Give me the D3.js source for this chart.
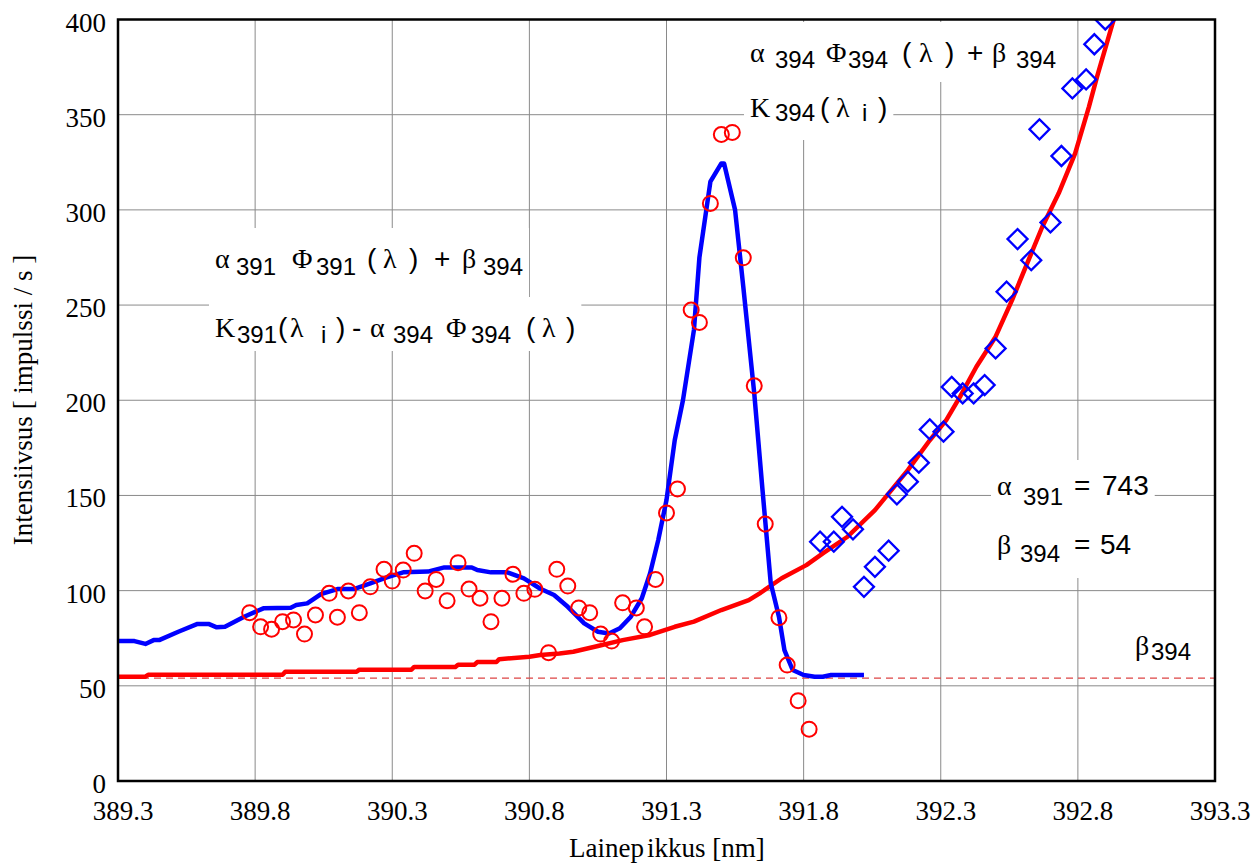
<!DOCTYPE html>
<html><head><meta charset="utf-8">
<script src="https://cdn.jsdelivr.net/npm/d3@7"></script>
<style>body{margin:0;background:#fff} svg{display:block} text{white-space:pre}</style>
</head><body>
<svg id="chart" width="1255" height="864"></svg>
<script>
// ---------- data ----------
const xTicks = [389.3, 389.8, 390.3, 390.8, 391.3, 391.8, 392.3, 392.8, 393.3];
const yTicks = [0, 50, 100, 150, 200, 250, 300, 350, 400];
const xTitleA = "Lainep", xTitleB = "ikkus [nm]";
const yTitle = "Intensiivsus [ impulssi / s ]";

// alpha391*Phi391(lambda) + beta394 (blue curve)
const blueX = [389.30,389.36,389.40,389.43,389.45,389.52,389.59,389.63,389.66,389.69,389.76,389.83,389.93,389.95,389.99,390.04,390.10,390.16,390.22,390.28,390.34,390.43,390.49,390.59,390.61,390.66,390.72,390.78,390.84,390.89,390.94,391.00,391.05,391.09,391.13,391.17,391.21,391.24,391.27,391.30,391.33,391.36,391.40,391.42,391.46,391.50,391.51,391.55,391.58,391.62,391.65,391.68,391.71,391.73,391.76,391.80,391.84,391.87,391.90,391.94,392.02];
const blueY = [73.5,73.5,72,74,74,78.4,82.5,82.5,80.7,81,86.3,90.7,91,92.4,93.3,98.2,100.8,100.8,103.8,107,109.6,110,112.2,112.2,110.8,109.6,109.6,106.4,101,97.7,91.5,82.8,78.4,77.5,80.2,86.3,96,109,126.6,147.6,179,200,236.9,275,314.8,324.4,324.4,300,259.6,203.6,153,104,86.3,68.8,58.3,55.7,54.8,54.8,55.7,55.7,55.7];

// alpha394*Phi394(lambda) + beta394 (red curve)
const redX = [389.30,389.40,389.41,389.90,389.91,390.17,390.18,390.37,390.38,390.53,390.54,390.60,390.61,390.68,390.69,390.80,390.84,390.91,390.96,391.05,391.14,391.24,391.33,391.40,391.50,391.60,391.64,391.72,391.81,391.87,391.96,392.06,392.12,392.18,392.26,392.32,392.37,392.43,392.50,392.56,392.62,392.67,392.73,392.79,392.84,392.87,392.93,392.97];
const redY = [54.8,54.8,55.8,55.8,57.4,57.4,58.5,58.5,59.9,59.9,61.1,61.1,62.5,62.5,64,65.3,66.2,67,67.9,70.9,74,76.7,81,83.7,89.8,95,98.6,106.5,113.4,119.6,128.3,142.3,152.8,163.3,179,189.6,201.8,217.6,233.4,252.6,273.6,291,308.7,329.7,354,370,399.7,415];

// K391(lambda_i) - alpha394*Phi394 (red circles)
const circX = [389.78,389.82,389.86,389.90,389.94,389.98,390.02,390.07,390.10,390.14,390.18,390.22,390.27,390.30,390.34,390.38,390.42,390.46,390.50,390.54,390.58,390.62,390.66,390.70,390.74,390.78,390.82,390.87,390.90,390.94,390.98,391.02,391.06,391.10,391.14,391.19,391.22,391.26,391.30,391.34,391.39,391.42,391.46,391.50,391.54,391.58,391.62,391.66,391.71,391.74,391.78,391.82];
const circY = [88.4,81,79.7,83.7,84.6,77.2,87.2,98.6,86,99.8,88.4,102,111.2,105,110.8,119.6,99.8,105.9,94.7,114.7,100.8,96,83.7,96,108.6,98.6,100.7,67.4,111.2,102.4,90.9,88.4,77.2,73.5,93.6,90.9,81,105.9,140.8,153.4,247.4,240.9,303.4,339.6,340.7,274.8,207.6,135,85.8,60.9,42.2,27.2];

// K394(lambda_i) (blue diamonds)
const diamX = [391.86,391.91,391.94,391.98,392.02,392.06,392.11,392.14,392.18,392.22,392.26,392.31,392.34,392.38,392.42,392.46,392.50,392.54,392.58,392.63,392.66,392.70,392.74,392.78,392.83,392.86,392.90];
const diamY = [125.7,125.7,138.8,132.2,102,112.5,121,150.6,157.2,167.2,184.7,183.5,207,203.6,203.6,208,227.2,257,284.7,273.6,342.3,293.4,328.3,363.8,368.5,387,400];

const alpha391 = 743;
const beta394 = 54;

// ---------- drawing ----------
const SER = "'Liberation Serif','Times New Roman',serif";
const SAN = "'Liberation Sans',Arial,sans-serif";
const L = 118, T = 19.5, R = 1215, B = 781;
const svg = d3.select("#chart");
const x = d3.scaleLinear().domain([389.3, 393.3]).range([L, R]);
const y = d3.scaleLinear().domain([0, 400]).range([B, T]);

svg.append("defs").append("clipPath").attr("id","clip")
  .append("rect").attr("x",L).attr("y",T).attr("width",R-L).attr("height",B-T);

// grid
const grid = svg.append("g");
grid.selectAll("line.v").data(xTicks.slice(1,-1)).join("line")
  .attr("x1",d=>x(d)).attr("x2",d=>x(d)).attr("y1",T).attr("y2",B)
  .attr("stroke","#8a8a8a").attr("stroke-width",1);
grid.selectAll("line.h").data(yTicks.slice(1,-1)).join("line")
  .attr("y1",d=>y(d)).attr("y2",d=>y(d)).attr("x1",L).attr("x2",R)
  .attr("stroke","#8a8a8a").attr("stroke-width",1);

// beta394 dashed line
svg.append("line").attr("x1",x(389.3)).attr("x2",x(393.3))
  .attr("y1",y(beta394)).attr("y2",y(beta394))
  .attr("stroke","#dd4444").attr("stroke-width",1.3).attr("stroke-dasharray","7,5");

// labels with white boxes; each part: [text, kind, x-offset]
const labelLayer = svg.append("g");
const STY = {g:{f:SER,s:28}, s:{f:SAN,s:24}, n:{f:SAN,s:28}};
function addLabel(px, py, parts, subShift, boxTop, boxBot){
  const g = labelLayer.append("g");
  const rect = g.append("rect").attr("fill","#fff");
  const txt = g.append("text").attr("fill","#000");
  parts.forEach(([t,k,off])=>{
    txt.append("tspan").attr("font-family",STY[k].f).attr("font-size",STY[k].s)
      .attr("x",px+off).attr("y",py + (k==='s'?subShift:0)).text(t);
  });
  if (boxTop != null) {
    const bb = txt.node().getBBox();
    rect.attr("x",bb.x-6).attr("width",bb.width+12)
      .attr("y",py-boxTop).attr("height",boxTop+boxBot);
  }
}
addLabel(750, 62, [['α','g',0],['394','s',25],['Φ','g',76],['394','s',98],['(','n',152],['λ','g',169],[')','n',195],['+','n',217],['β','g',242],['394','s',266]], 6, 40, 20);
addLabel(750, 117, [['K','g',0],['394','s',25],['(','n',70],['λ','g',86],['i','s',112],[')','n',128]], 4, 35, 23);
addLabel(215, 268, [['α','g',0],['391','s',21],['Φ','g',77],['391','s',101],['(','n',152],['λ','g',168],[')','n',194],['+','n',219],['β','g',247],['394','s',268]], 7, 40, 30);
addLabel(215, 337, [['K','g',0],['391','s',22],['(','n',63],['λ','g',75],['i','s',106],[')','n',121],['-','n',137],['α','g',155],['394','s',178],['Φ','g',231],['394','s',256],['(','n',311],['λ','g',327],[')','n',351]], 6, 40, 14);
addLabel(997, 495, [['α','g',0],['391','s',26],['=','n',77],[String(alpha391),'n',105]], 10, 35, 22);
addLabel(997, 554, [['β','g',0],['394','s',23],['=','n',77],[String(beta394),'n',103]], 8, 38, 24);
addLabel(1135, 655, [['β','g',0],['394','s',16]], 5, null, null);

// data layer
const data = svg.append("g").attr("clip-path","url(#clip)");
const line = d3.line().x(d=>x(d[0])).y(d=>y(d[1]));
data.append("path").datum(redX.map((v,i)=>[v,redY[i]]))
  .attr("d",line).attr("fill","none").attr("stroke","#ff0000").attr("stroke-width",4.5)
  .attr("stroke-linejoin","round");
data.append("path").datum(blueX.map((v,i)=>[v,blueY[i]]))
  .attr("d",line).attr("fill","none").attr("stroke","#0000ff").attr("stroke-width",4.5)
  .attr("stroke-linejoin","round");
data.selectAll("circle").data(circX.map((v,i)=>[v,circY[i]])).join("circle")
  .attr("cx",d=>x(d[0])).attr("cy",d=>y(d[1])).attr("r",7.5)
  .attr("fill","none").attr("stroke","#ff0000").attr("stroke-width",2);
const sq = d3.symbol().type(d3.symbolSquare).size(200);
data.selectAll("path.dm").data(diamX.map((v,i)=>[v,diamY[i]])).join("path")
  .attr("class","dm").attr("d",sq)
  .attr("transform",d=>`translate(${x(d[0])},${y(d[1])}) rotate(45)`)
  .attr("fill","none").attr("stroke","#0000ff").attr("stroke-width",2.3);

// frame
svg.append("rect").attr("x",L).attr("y",T).attr("width",R-L).attr("height",B-T)
  .attr("fill","none").attr("stroke","#000").attr("stroke-width",2.5);

// tick labels
svg.selectAll("text.xt").data(xTicks).join("text").attr("class","xt")
  .attr("x",d=>x(d)+5).attr("y",820).attr("text-anchor","middle")
  .attr("font-family",SER).attr("font-size",27).text(d=>d.toFixed(1));
svg.selectAll("text.yt").data(yTicks).join("text").attr("class","yt")
  .attr("x",106).attr("y",d=>y(d)+12).attr("text-anchor","end")
  .attr("font-family",SER).attr("font-size",27).text(d=>d);

// axis titles
const xt = svg.append("text").attr("x",569).attr("y",857)
  .attr("font-family",SER).attr("font-size",27);
xt.append("tspan").text(xTitleA);
xt.append("tspan").attr("dx",3).text(xTitleB);
svg.append("text").attr("transform","translate(32,400) rotate(-90)").attr("text-anchor","middle")
  .attr("font-family",SER).attr("font-size",27).text(yTitle);
</script>
</body></html>
